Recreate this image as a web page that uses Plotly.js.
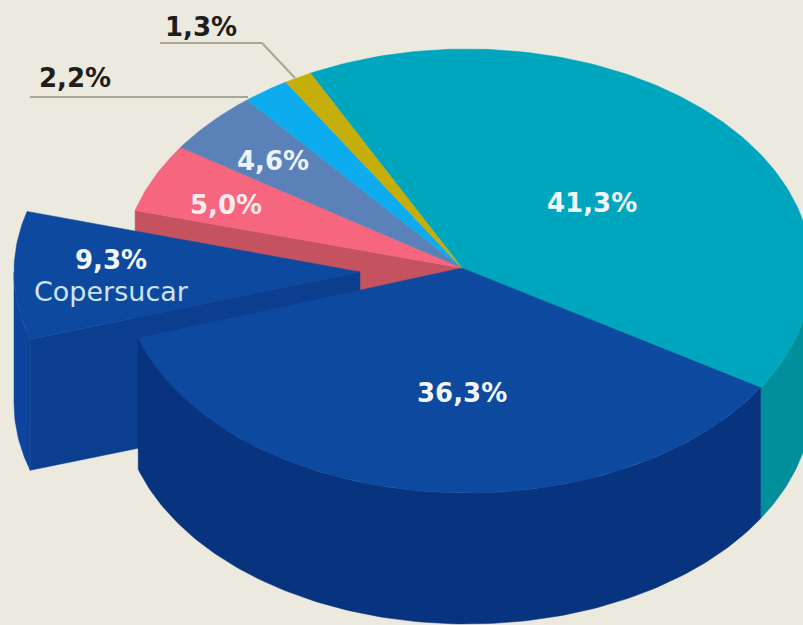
<!DOCTYPE html>
<html><head><meta charset="utf-8">
<script src="https://cdn.plot.ly/plotly-3.0.1.min.js"></script>
<style>html,body{margin:0;padding:0;background:#ece9de}#c{width:803px;height:625px}</style>
</head><body><div id="c"></div>
<script>
// Data: share per segment, clockwise from the top
const segmentNames = ["Teal","Blue","Copersucar","Pink","Steel","Sky","Gold"];
const shares = [41.3,36.3,9.3,5.0,4.6,2.2,1.3];
const shareLabels = ["41,3%","36,3%","9,3%","5,0%","4,6%","2,2%","1,3%"];
const extraLabel = "Copersucar";

// Drawing styles
const topColors  = ["#00a6bd","#0d4a9f","#0d4a9f","#f6667f","#5a82b9","#0cacee","#c5ad0a"];
const wallColors = {teal:"#008f9b",blue:"#07337f",copFront:"#0c3e90",copOuter:"#0d459e",pink:"#c5525f"};
const bg = "#ece9de";
const G = {cx:467,cy:271,a:345,b:222,depth:131,apexX:462,apexY:268,start:117,
           copDx:-108,copDy:1,copTipX:360,copTipY:272};

const rad = d => d*Math.PI/180;
const pt = (deg,dx=0,dy=0) => [G.cx+G.a*Math.cos(rad(deg))+dx, G.cy-G.b*Math.sin(rad(deg))+dy];
function arc(a0,a1,dx=0,dy=0){
  const n=Math.max(2,Math.ceil(Math.abs(a1-a0)));const out=[];
  for(let i=0;i<=n;i++) out.push(pt(a0+(a1-a0)*i/n,dx,dy));
  return out;
}
function poly(points,color){
  const ring=points.concat([points[0]]);
  return {type:"scatter",mode:"lines",x:ring.map(p=>p[0]),y:ring.map(p=>p[1]),
    fill:"toself",fillcolor:color,line:{color:color,width:0.5},hoverinfo:"skip",showlegend:false};
}
// angular extent of each segment from its share
let ang=G.start;const spans=shares.map(v=>{const s=[ang,ang-v*3.6];ang=s[1];return s;});
const [teal,blue,cop,pink,steel,sky,gold]=spans;
const apex=[G.apexX,G.apexY];
const tip=[G.copTipX,G.copTipY];
const down=p=>[p[0],p[1]+G.depth];
const wallOf=(a0,a1,dx=0,dy=0)=>{const t=arc(a0,a1,dx,dy);return t.concat(t.slice().reverse().map(down));};

const traces=[];
// walls seen through the gap left by the pulled-out slice
const pinkC=pt(pink[0]);
traces.push(poly([pinkC,apex,down(apex),down(pinkC)],wallColors.pink));
// pulled-out slice
const cdx=G.copDx,cdy=G.copDy;
traces.push(poly(wallOf(cop[0],-180,cdx,cdy),wallColors.copOuter));
const copLow=pt(cop[0],cdx,cdy);
traces.push(poly([copLow,tip,down(tip),down(copLow)],wallColors.copFront));
traces.push(poly([tip].concat(arc(cop[0],cop[1],cdx,cdy)),topColors[2]));
// main walls
traces.push(poly(wallOf(0,teal[1]),wallColors.teal));
traces.push(poly(wallOf(blue[0],blue[1]),wallColors.blue));
// main top faces
[0,1,3,4,5,6].forEach(i=>traces.push(poly([apex].concat(arc(spans[i][0],spans[i][1])),topColors[i])));

function label(text,x,y,size,color,weight){
  return {x:x,y:y,xref:"x",yref:"y",text:text,showarrow:false,xanchor:"center",yanchor:"middle",
    font:{family:"'DejaVu Sans', sans-serif",size:size,color:color,weight:weight}};
}
const white="#f4f7fa",dark="#1e1e1c";
const annotations=[
  label(shareLabels[0],592,203,26,white,700),
  label(shareLabels[1],462,393,26,white,700),
  label(shareLabels[2],111,260,26,white,700),
  label(extraLabel,111,291,27,"#cfe3f6",400),
  label(shareLabels[3],226,205,26,"#fbeaee",700),
  label(shareLabels[4],273,161,26,"#eef3f9",700),
  label(shareLabels[5],75,78,26,dark,700),
  label(shareLabels[6],201,27,26,dark,700)
];
const leader="#a9a698";
const shapes=[
  {type:"line",xref:"x",yref:"y",x0:30,y0:97,x1:248,y1:97,line:{color:leader,width:2}},
  {type:"line",xref:"x",yref:"y",x0:160,y0:43,x1:262,y1:43,line:{color:leader,width:2}},
  {type:"line",xref:"x",yref:"y",x0:262,y0:43,x1:295,y1:78,line:{color:leader,width:2}}
];
Plotly.newPlot("c",traces,{
  width:803,height:625,margin:{l:0,r:0,t:0,b:0},paper_bgcolor:bg,plot_bgcolor:bg,showlegend:false,
  xaxis:{range:[0,803],visible:false,fixedrange:true},
  yaxis:{range:[625,0],visible:false,fixedrange:true},
  annotations:annotations,shapes:shapes
},{displayModeBar:false,staticPlot:true});
</script></body></html>
